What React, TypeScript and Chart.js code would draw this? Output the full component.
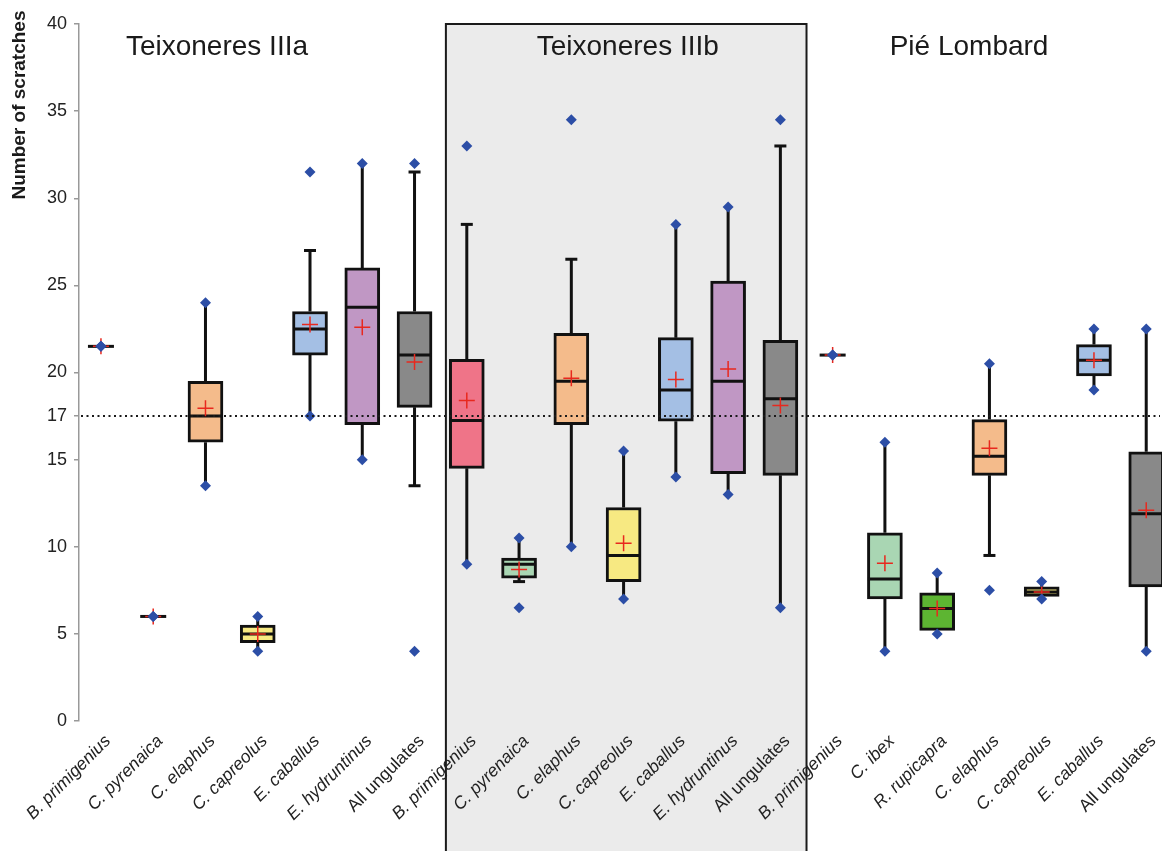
import React, { useEffect, useRef } from 'react';
import { Chart, registerables } from 'chart.js';

Chart.register(...registerables);

const categories = [
  'B. primigenius', 'C. pyrenaica', 'C. elaphus', 'C. capreolus', 'E. caballus', 'E. hydruntinus', 'All ungulates',
  'B. primigenius', 'C. pyrenaica', 'C. elaphus', 'C. capreolus', 'E. caballus', 'E. hydruntinus', 'All ungulates',
  'B. primigenius', 'C. ibex', 'R. rupicapra', 'C. elaphus', 'C. capreolus', 'E. caballus', 'All ungulates',
];
const groupNames = ['Teixoneres IIIa', 'Teixoneres IIIb', 'Pié Lombard'];
const groupSizes = [7, 7, 7];

const q1Values = [21.5, 6, 16, 4.5, 21, 17, 18, 14.5, 8.2, 17, 8, 17.2, 14.2, 14.1, 21, 7, 5.2, 14.1, 7.15, 19.8, 7.7];
const medianValues = [21.5, 6, 17.5, 5, 22.5, 23.75, 21, 17.25, 9, 19.5, 9.5, 19, 19.5, 18.5, 21, 8.15, 6.45, 15.2, 7.4, 20.7, 11.9];
const q3Values = [21.5, 6, 19.5, 5.5, 23.5, 26, 23.5, 20.75, 9.35, 22.25, 12.25, 22, 25.25, 21.85, 21, 10.8, 7.35, 17.3, 7.7, 21.6, 15.45];
const whiskerLowValues = [21.5, 6, 13.5, 4, 17.5, 15, 13.5, 9, 8, 10, 7, 14, 13, 6.5, 21, 4, 5, 9.5, 7, 19, 4];
const whiskerHighValues = [21.5, 6, 24, 6, 27, 32, 31.5, 28.5, 10.5, 26.5, 15.5, 28.5, 29.5, 33, 21, 16, 8.5, 20.5, 8, 22.5, 22.5];
const minValues = [21.5, 6, 13.5, 4, 17.5, 15, 4, 9, 6.5, 10, 7, 14, 13, 6.5, 21, 4, 5, 7.5, 7, 19, 4];
const maxValues = [21.5, 6, 24, 6, 31.5, 32, 32, 33, 10.5, 34.5, 15.5, 28.5, 29.5, 34.5, 21, 16, 8.5, 20.5, 8, 22.5, 22.5];
const meanValues = [21.5, 6, 17.95, 5, 22.75, 22.6, 20.6, 18.4, 8.7, 19.67, 10.2, 19.6, 20.2, 18.1, 21, 9.05, 6.45, 15.65, 7.4, 20.7, 12.1];

const yTickValues = [0, 5, 10, 15, 17.5, 20, 25, 30, 35, 40];
const yTickLabels = ['0', '5', '10', '15', '17', '20', '25', '30', '35', '40'];
const thresholdValue = 17.5;
const yAxisTitle = 'Number of scratches';

const speciesColors: Record<string, string> = {
  'B. primigenius': '#ef7488',
  'C. pyrenaica': '#a9d6b3',
  'C. elaphus': '#f4bb8b',
  'C. capreolus': '#f7e982',
  'E. caballus': '#a4bfe4',
  'E. hydruntinus': '#c097c4',
  'All ungulates': '#898989',
  'C. ibex': '#a9d6b3',
  'R. rupicapra': '#5db532',
};

// annotation placement (x in category units)
const titleCenters = [2.22, 10.08, 16.61];
const FONT = '"Liberation Sans", Arial, sans-serif';

const extrasPlugin = {
  id: 'boxExtras',
  beforeDraw(chart: any) {
    const { ctx, width, height } = chart;
    const x = chart.scales.x;
    const y = chart.scales.y;
    ctx.save();
    ctx.fillStyle = '#ffffff';
    ctx.fillRect(0, 0, width, height);
    const start = groupSizes[0];
    const end = start + groupSizes[1] - 1;
    const l = x.getPixelForValue(start - 0.4);
    const r = x.getPixelForValue(end + 0.5);
    const t = y.getPixelForValue(40);
    ctx.fillStyle = '#ebebeb';
    ctx.fillRect(l, t, r - l, height - t + 10);
    ctx.strokeStyle = '#1a1a1a';
    ctx.lineWidth = 2;
    ctx.strokeRect(l, t, r - l, height - t + 10);
    ctx.restore();
  },
  beforeDatasetsDraw(chart: any) {
    const { ctx } = chart;
    const x = chart.scales.x;
    const y = chart.scales.y;
    ctx.save();
    ctx.strokeStyle = '#111';
    ctx.lineWidth = 3;
    ctx.lineCap = 'butt';
    categories.forEach((_, i) => {
      const px = x.getPixelForValue(i);
      ctx.beginPath();
      ctx.moveTo(px, y.getPixelForValue(q3Values[i]));
      ctx.lineTo(px, y.getPixelForValue(whiskerHighValues[i]));
      ctx.moveTo(px, y.getPixelForValue(q1Values[i]));
      ctx.lineTo(px, y.getPixelForValue(whiskerLowValues[i]));
      ctx.stroke();
      ctx.beginPath();
      if (whiskerHighValues[i] !== maxValues[i]) {
        const py = y.getPixelForValue(whiskerHighValues[i]);
        ctx.moveTo(px - 6, py);
        ctx.lineTo(px + 6, py);
      }
      if (whiskerLowValues[i] !== minValues[i]) {
        const py = y.getPixelForValue(whiskerLowValues[i]);
        ctx.moveTo(px - 6, py);
        ctx.lineTo(px + 6, py);
      }
      ctx.stroke();
    });
    ctx.restore();
  },
  afterDatasetDraw(chart: any, args: any) {
    if (args.index !== 2) return;
    const { ctx } = chart;
    const x = chart.scales.x;
    const y = chart.scales.y;
    ctx.save();
    ctx.strokeStyle = '#111';
    ctx.lineWidth = 3;
    categories.forEach((_, i) => {
      const px = x.getPixelForValue(i);
      const py = y.getPixelForValue(medianValues[i]);
      const half = q1Values[i] === q3Values[i] ? 13 : 17;
      ctx.beginPath();
      ctx.moveTo(px - half, py);
      ctx.lineTo(px + half, py);
      ctx.stroke();
    });
    ctx.restore();
  },
  afterDatasetsDraw(chart: any) {
    const { ctx, chartArea, width } = chart;
    const y = chart.scales.y;
    const py = Math.round(y.getPixelForValue(thresholdValue));
    ctx.save();
    ctx.strokeStyle = '#1a1a1a';
    ctx.lineWidth = 2;
    ctx.setLineDash([2, 3.5]);
    ctx.beginPath();
    ctx.moveTo(chartArea.left + 2, py);
    ctx.lineTo(width - 2, py);
    ctx.stroke();
    ctx.restore();
  },
  afterDraw(chart: any) {
    const { ctx } = chart;
    const x = chart.scales.x;
    const y = chart.scales.y;
    ctx.save();
    ctx.fillStyle = '#1a1a1a';
    ctx.font = `28px ${FONT}`;
    ctx.textAlign = 'center';
    ctx.textBaseline = 'alphabetic';
    const base = y.getPixelForValue(40) + 31;
    groupNames.forEach((name, g) => {
      ctx.fillText(name, x.getPixelForValue(titleCenters[g]), base);
    });
    ctx.translate(20, 105);
    ctx.rotate(-Math.PI / 2);
    ctx.font = `bold 19px ${FONT}`;
    ctx.textBaseline = 'middle';
    ctx.fillText(yAxisTitle, 0, 0);
    ctx.restore();
  },
};

export default function App() {
  const ref = useRef<HTMLCanvasElement | null>(null);

  useEffect(() => {
    if (!ref.current) return;
    const chart = new Chart(ref.current, {
      type: 'bar',
      data: {
        datasets: [
          {
            type: 'scatter',
            data: categories.flatMap((_, i) => [
              { x: i, y: minValues[i] },
              { x: i, y: maxValues[i] },
            ]),
            pointStyle: 'rectRot',
            pointRadius: 5.5,
            backgroundColor: '#2c4ea6',
            borderColor: '#2c4ea6',
            borderWidth: 0,
            clip: false,
          } as any,
          {
            type: 'scatter',
            data: meanValues.map((m, i) => ({ x: i, y: m })),
            pointStyle: 'cross',
            pointRadius: 8,
            borderColor: '#e8281e',
            borderWidth: 1.5,
            clip: false,
          } as any,
          {
            type: 'bar',
            data: categories.map((_, i) => ({ x: i, y: [q1Values[i], q3Values[i]] })),
            backgroundColor: categories.map((c) => speciesColors[c]),
            borderColor: '#111',
            borderWidth: 3,
            borderSkipped: false,
            barThickness: 35,
            clip: false,
          } as any,
        ],
      },
      options: {
        animation: false,
        responsive: false,
        devicePixelRatio: 1,
        events: [],
        layout: { padding: { top: 24, left: 0, right: 0, bottom: 0 } },
        plugins: { legend: { display: false }, tooltip: { enabled: false }, title: { display: false } },
        scales: {
          x: {
            type: 'linear',
            offset: false,
            min: -0.42,
            max: 20.12,
            afterBuildTicks: (s: any) => {
              s.ticks = categories.map((_, i) => ({ value: i }));
            },
            afterFit: (s: any) => {
              s.height = 130;
              s.paddingLeft = 0;
              s.paddingRight = 0;
            },
            grid: { display: false, offset: false },
            border: { display: false },
            ticks: {
              autoSkip: false,
              minRotation: 45,
              maxRotation: 45,
              padding: 2,
              labelOffset: 7,
              color: '#222',
              callback: (v: any) => categories[v] ?? '',
              font: (c: any) => ({
                family: FONT,
                size: 17.5,
                style: categories[c.index] === 'All ungulates' ? 'normal' : 'italic',
              }),
            },
          } as any,
          y: {
            type: 'linear',
            min: 0,
            max: 40,
            afterBuildTicks: (s: any) => {
              s.ticks = yTickValues.map((v) => ({ value: v }));
            },
            afterFit: (s: any) => {
              s.width = 79;
            },
            grid: { drawOnChartArea: false, drawTicks: true, tickLength: 5, color: '#999', lineWidth: 1.5 },
            border: { display: true, color: '#999', width: 1.5 },
            ticks: {
              padding: 7,
              color: '#222',
              font: { family: FONT, size: 18 },
              callback: (v: any) => yTickLabels[yTickValues.indexOf(v)] ?? '',
            },
          } as any,
        },
      },
      plugins: [extrasPlugin],
    });
    return () => chart.destroy();
  }, []);

  return (
    <div style={{ position: 'fixed', left: 0, top: 0, width: 1162, height: 851, background: '#fff' }}>
      <canvas ref={ref} width={1162} height={851} style={{ display: 'block', width: 1162, height: 851 }} />
    </div>
  );
}
